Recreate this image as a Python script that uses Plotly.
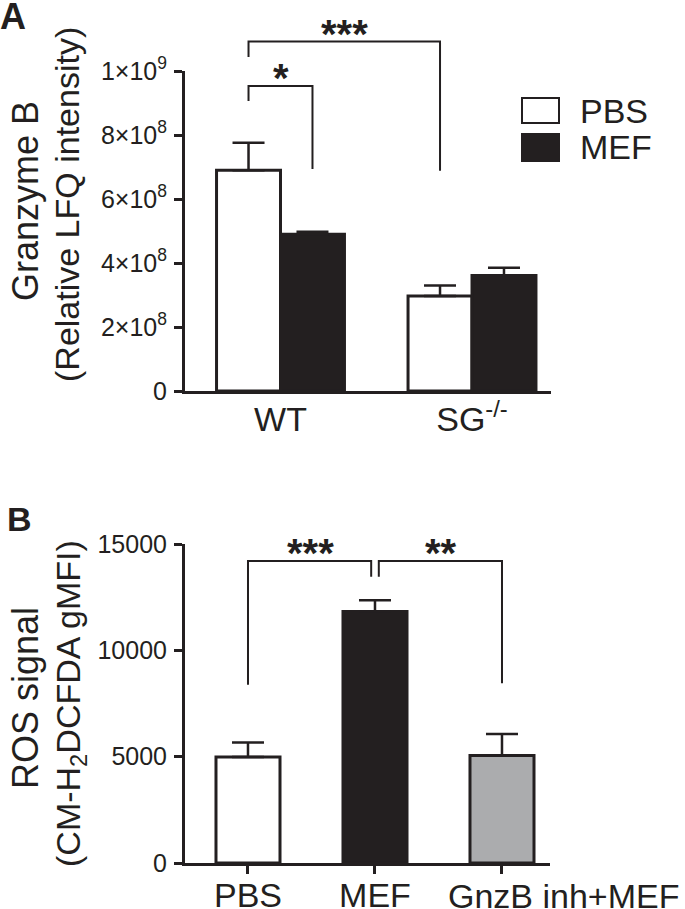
import plotly.graph_objects as go

# ---------------- data ----------------
groups_a = ["WT", "SG<sup>-/-</sup>"]
series_a = ["PBS", "MEF"]
pbs_mean = [6.9e8, 2.97e8]
pbs_err = [0.86e8, 0.33e8]
mef_mean = [4.9e8, 3.61e8]
mef_err = [0.08e8, 0.24e8]
ytick_vals_a = [0, 2e8, 4e8, 6e8, 8e8, 1e9]
ytick_text_a = ["0", "2×10<sup>8</sup>", "4×10<sup>8</sup>", "6×10<sup>8</sup>",
                "8×10<sup>8</sup>", "1×10<sup>9</sup>"]

conds_b = ["PBS", "MEF", "GnzB inh+MEF"]
ros_mean = [4980, 11830, 5050]
ros_err = [690, 520, 1020]
ytick_vals_b = [0, 5000, 10000, 15000]
ytick_text_b = ["0", "5000", "10000", "15000"]

# ---------------- layout geometry ----------------
W, H = 685, 909
INK = "#231f20"
FONT = "Liberation Sans, Arial, Helvetica, sans-serif"

ax_a = dict(x0=185, x1=551, y0=391, y1=71)   # pixel box of panel A
ax_b = dict(x0=185, x1=550, y0=863, y1=544)  # pixel box of panel B

xr_a = [-0.4987, 1.4125]
yr_a = [0, 1e9]
xr_b = [-0.496, 2.378]
yr_b = [0, 15000]
wA = 0.334   # bar width (A)
wB = 0.504   # bar width (B)


def px(x):
    return x / W


def py(y):
    return 1 - y / H


def to_paper(v, rng, p0, p1, horiz):
    p = p0 + (v - rng[0]) / (rng[1] - rng[0]) * (p1 - p0)
    return px(p) if horiz else py(p)


def ax_x(v):
    return to_paper(v, xr_a, ax_a["x0"], ax_a["x1"], True)


def ax_y(v):
    return to_paper(v, yr_a, ax_a["y0"], ax_a["y1"], False)


def bx_x(v):
    return to_paper(v, xr_b, ax_b["x0"], ax_b["x1"], True)


def bx_y(v):
    return to_paper(v, yr_b, ax_b["y0"], ax_b["y1"], False)


fig = go.Figure()

xa = list(range(len(groups_a)))
fig.add_trace(go.Bar(
    x=[i - wA / 2 for i in xa], y=pbs_mean, width=wA, name=series_a[0],
    marker=dict(color="white", line=dict(color=INK, width=3)),
    error_y=dict(type="data", symmetric=False, array=pbs_err, arrayminus=[0] * len(xa),
                 color=INK, thickness=2.5, width=16),
    xaxis="x", yaxis="y", showlegend=False))
fig.add_trace(go.Bar(
    x=[i + wA / 2 for i in xa], y=mef_mean, width=wA, name=series_a[1],
    marker=dict(color=INK, line=dict(color=INK, width=3)),
    error_y=dict(type="data", symmetric=False, array=mef_err, arrayminus=[0] * len(xa),
                 color=INK, thickness=2.5, width=16),
    xaxis="x", yaxis="y", showlegend=False))

xb = list(range(len(conds_b)))
fig.add_trace(go.Bar(
    x=xb, y=ros_mean, width=wB,
    marker=dict(color=["white", INK, "#abacae"], line=dict(color=INK, width=3)),
    error_y=dict(type="data", symmetric=False, array=ros_err, arrayminus=[0] * len(xb),
                 color=INK, thickness=2.5, width=16),
    xaxis="x2", yaxis="y2", showlegend=False))

axis_common = dict(showgrid=False, zeroline=False, showline=True, linecolor=INK,
                   linewidth=3, tickcolor=INK, tickwidth=3, fixedrange=True,
                   automargin=False)

# the last category label of panel B is offset to the right in the reference,
# so it is drawn as an annotation; the first two are axis tick labels
xb_ticktext = conds_b[:2] + [""]

fig.update_layout(
    width=W, height=H, margin=dict(l=0, r=0, t=0, b=0, autoexpand=False),
    paper_bgcolor="white", plot_bgcolor="white",
    font=dict(family=FONT, color=INK),
    barmode="overlay", hovermode=False,
    xaxis=dict(domain=[px(ax_a["x0"]), px(ax_a["x1"])], range=xr_a, anchor="y",
               tickvals=xa, ticktext=groups_a, ticks="", tickfont=dict(size=34),
               ticklabelstandoff=-4, tickangle=0, **axis_common),
    yaxis=dict(domain=[py(ax_a["y0"]), py(ax_a["y1"])], range=yr_a, anchor="x",
               tickvals=ytick_vals_a, ticktext=ytick_text_a, ticks="outside",
               ticklen=8, tickfont=dict(size=25), ticklabelstandoff=2, **axis_common),
    xaxis2=dict(domain=[px(ax_b["x0"]), px(ax_b["x1"])], range=xr_b, anchor="y2",
                tickvals=xb, ticktext=xb_ticktext, ticks="outside", ticklen=8,
                tickfont=dict(size=34), ticklabelstandoff=-8, tickangle=0, **axis_common),
    yaxis2=dict(domain=[py(ax_b["y0"]), py(ax_b["y1"])], range=yr_b, anchor="x2",
                tickvals=ytick_vals_b, ticktext=ytick_text_b, ticks="outside", ticklen=8,
                tickfont=dict(size=25), ticklabelstandoff=2, **axis_common),
)

shapes = []
annots = []


def bracket(fx, fy, xl, xr, ytop, yl, yrr):
    pts = [(xl, yl), (xl, ytop), (xr, ytop), (xr, yrr)]
    path = "M " + " L ".join(f"{fx(a)},{fy(b)}" for a, b in pts)
    shapes.append(dict(type="path", path=path, xref="paper", yref="paper",
                       line=dict(color=INK, width=2)))


STAR = dict(size=40, color=INK)
# Panel A brackets
bracket(ax_x, ax_y, 0 - wA / 2, 0 + wA / 2, 0.953e9, 0.906e9, 0.694e9)
bracket(ax_x, ax_y, 0 - wA / 2, 1 - wA / 2, 1.092e9, 1.044e9, 0.688e9)
annots.append(dict(text="<b>*</b>", x=ax_x(0), y=ax_y(0.953e9), xref="paper", yref="paper",
                   xanchor="center", yanchor="bottom", showarrow=False,
                   font=STAR, yshift=-16))
annots.append(dict(text="<b>***</b>", x=ax_x(0.335), y=ax_y(1.092e9), xref="paper", yref="paper",
                   xanchor="center", yanchor="bottom", showarrow=False,
                   font=STAR, yshift=-16))

# Panel B brackets
gap = 0.03
bracket(bx_x, bx_y, 0, 1 - gap, 14200, 8380, 13460)
bracket(bx_x, bx_y, 1 + gap, 2, 14200, 13460, 8450)
annots.append(dict(text="<b>***</b>", x=bx_x(0.49), y=bx_y(14200), xref="paper", yref="paper",
                   xanchor="center", yanchor="bottom", showarrow=False,
                   font=STAR, yshift=-16))
annots.append(dict(text="<b>**</b>", x=bx_x(1.52), y=bx_y(14200), xref="paper", yref="paper",
                   xanchor="center", yanchor="bottom", showarrow=False,
                   font=STAR, yshift=-16))

# third category label of panel B
annots.append(dict(text=conds_b[2], x=px(446), y=py(863), xref="paper", yref="paper",
                   xanchor="left", yanchor="top", showarrow=False, yshift=-12,
                   font=dict(size=34, color=INK)))

# Legend (panel A)
leg_fill = ["white", INK]
leg_y = [(98, 123), (134, 161)]
for name, fill, (y0, y1) in zip(series_a, leg_fill, leg_y):
    shapes.append(dict(type="rect", xref="paper", yref="paper",
                       x0=px(522), x1=px(559), y0=py(y1), y1=py(y0),
                       fillcolor=fill, line=dict(color=INK, width=2)))
    annots.append(dict(text=name, x=px(578), y=py((y0 + y1) / 2), xref="paper", yref="paper",
                       xanchor="left", yanchor="middle", showarrow=False,
                       font=dict(size=34, color=INK)))

# Panel letters
annots.append(dict(text="<b>A</b>", x=px(-2), y=py(0), xref="paper", yref="paper",
                   xanchor="left", yanchor="top", showarrow=False, font=dict(size=36, color=INK),
                   yshift=6))
annots.append(dict(text="<b>B</b>", x=px(5), y=py(500), xref="paper", yref="paper",
                   xanchor="left", yanchor="top", showarrow=False, font=dict(size=34, color=INK),
                   yshift=2))

# Y-axis titles
annots.append(dict(text="Granzyme B", x=px(25), y=py(201), xref="paper", yref="paper",
                   xanchor="center", yanchor="middle", showarrow=False, textangle=-90,
                   font=dict(size=36, color=INK)))
annots.append(dict(text="(Relative LFQ intensity)", x=px(67), y=py(205), xref="paper", yref="paper",
                   xanchor="center", yanchor="middle", showarrow=False, textangle=-90,
                   font=dict(size=34, color=INK)))
annots.append(dict(text="ROS signal", x=px(25), y=py(698), xref="paper", yref="paper",
                   xanchor="center", yanchor="middle", showarrow=False, textangle=-90,
                   font=dict(size=36, color=INK)))
annots.append(dict(text="(CM-H<sub>2</sub>DCFDA gMFI)", x=px(70), y=py(704), xref="paper", yref="paper",
                   xanchor="center", yanchor="middle", showarrow=False, textangle=-90,
                   font=dict(size=34, color=INK)))

fig.update_layout(shapes=shapes, annotations=annots)
fig.write_html("out.html", config={"displayModeBar": False, "staticPlot": True},
               post_script="document.body.style.margin='0px';document.body.style.overflow='hidden';")
